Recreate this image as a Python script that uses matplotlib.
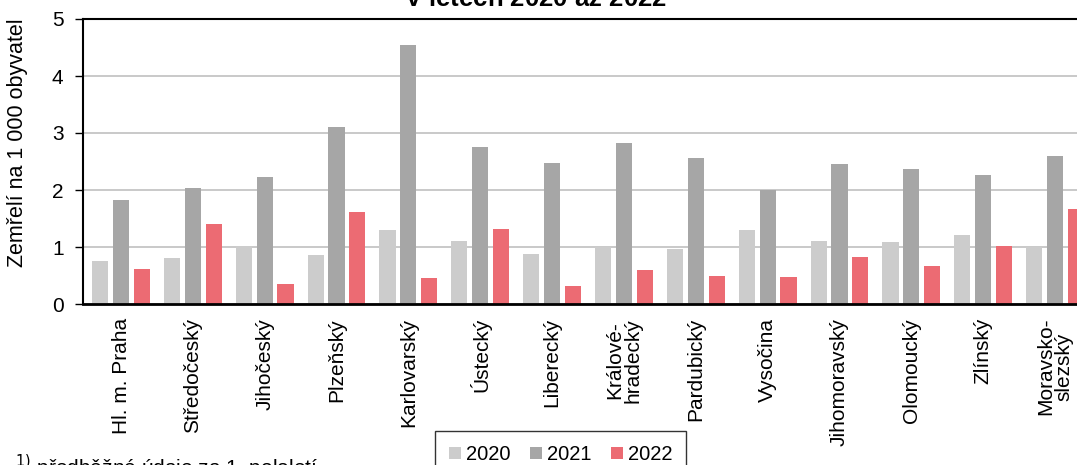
import numpy as np
import matplotlib
matplotlib.use('Agg')
import matplotlib.pyplot as plt
from matplotlib.patches import Patch

plt.rcParams['font.family'] = ['Liberation Sans', 'DejaVu Sans']

#kraje a hodnoty (zemreli na 1 000 obyvatel)
kraje = ['Hl. m. Praha', 'Středočeský', 'Jihočeský', 'Plzeňský', 'Karlovarský',
         'Ústecký', 'Liberecký', 'Králové-\nhradecký', 'Pardubický', 'Vysočina',
         'Jihomoravský', 'Olomoucký', 'Zlínský', 'Moravsko-\nslezský']
roky = ['2020', '2021', '2022']
v2020 = [0.76, 0.80, 1.02, 0.86, 1.29, 1.10, 0.88, 1.00, 0.96, 1.30, 1.10, 1.08, 1.21, 1.00]
v2021 = [1.83, 2.03, 2.22, 3.10, 4.54, 2.75, 2.47, 2.83, 2.57, 2.00, 2.45, 2.36, 2.27, 2.60]
v2022 = [0.62, 1.41, 0.35, 1.62, 0.45, 1.32, 0.32, 0.59, 0.49, 0.48, 0.82, 0.66, 1.01, 1.66]
barvy = ['#cccccc', '#a6a6a6', '#ec6b73']

W, H = 1077, 465
fig = plt.figure(figsize=(W / 100, H / 100), dpi=100)
ax = fig.add_axes([83 / W, 1 - 304 / H, 1010 / W, 285 / H])

x = np.arange(len(kraje))
off = 0.29
for k, (vals, c) in enumerate(zip([v2020, v2021, v2022], barvy)):
    ax.bar(x + (k - 1) * off, vals, width=0.225, color=c, linewidth=0, zorder=3)

ax.set_xlim(-0.53, len(kraje) - 0.47)
ax.set_ylim(0, 5)
ax.set_yticks(range(6))
ax.yaxis.grid(True, color='#c0c0c0', linewidth=1.2, zorder=0)
ax.tick_params(axis='y', labelsize=15, length=6, width=1, pad=8)
ax.tick_params(axis='x', length=0, pad=10)
ax.set_xticks(x)
ax.set_xticklabels(kraje, rotation=90, fontsize=15, va='top', ha='center',
                   multialignment='center', linespacing=0.95)

for s in ['left', 'bottom', 'top']:
    ax.spines[s].set_zorder(5)
ax.spines['left'].set_linewidth(1.5)
ax.spines['bottom'].set_linewidth(2)
ax.spines['top'].set_linewidth(1.5)
ax.spines['right'].set_visible(False)

fig.text(18 / W, 1 - 143 / H, 'Zemřelí na 1 000 obyvatel', rotation=90,
         ha='center', va='center', fontsize=15.5)

fig.text(548 / W, 1 - 7 / H, 'V letech 2020 až 2022 $^{1)}$', ha='center',
         va='baseline', fontsize=18.5, fontweight='bold')

fig.text(15 / W, 1 - 453 / H, '$^{1)}$ předběžné údaje za 1. pololetí',
         ha='left', va='top', fontsize=15)

handles = [Patch(facecolor=c, edgecolor='none') for c in barvy]
leg = fig.legend(handles, roky, loc='upper left',
                 bbox_to_anchor=(435 / W, 1 - 431 / H), ncol=3,
                 fontsize=14.5, frameon=True, fancybox=False, borderaxespad=0,
                 handlelength=0.6, handleheight=0.6, handletextpad=0.25,
                 columnspacing=0.95, borderpad=0.7)
leg.get_frame().set_edgecolor('black')
leg.get_frame().set_linewidth(1)

fig.savefig('out.png', dpi=100)
